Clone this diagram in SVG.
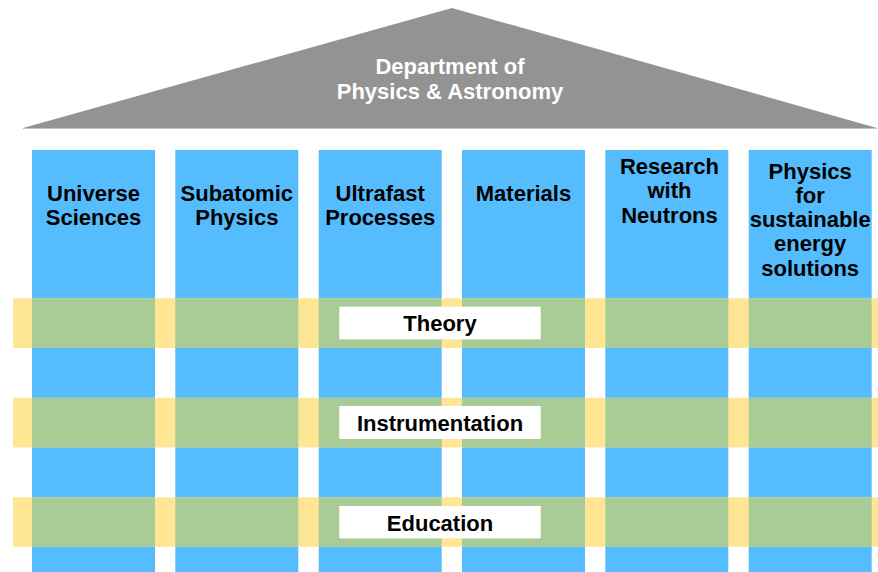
<svg xmlns="http://www.w3.org/2000/svg" width="878" height="572" viewBox="0 0 878 572">
<style>
.pillar{fill:#55BDFE}
.band{fill:#FFE695}
.ov{fill:#A9CC97}
.box{fill:#FFFFFF}
.t{font-family:"Liberation Sans",Arial,sans-serif;font-weight:bold;font-size:22px;fill:#000;text-anchor:middle}
.rt{font-family:"Liberation Sans",Arial,sans-serif;font-weight:bold;font-size:22px;fill:#FFFFFF;text-anchor:middle}
</style>
<rect width="878" height="572" fill="#FFFFFF"/>
<g id="roof">
<polygon points="452,8 877,128 23,128" fill="#939393"/>
<line x1="23" y1="128.5" x2="877" y2="128.5" stroke="#C4C4C4" stroke-width="1"/>
<text class="rt" x="450" y="74">Department of</text>
<text class="rt" x="450" y="99">Physics &amp; Astronomy</text>
</g>
<g id="pillars">
<g id="p1"><rect class="pillar" x="32" y="150" width="123" height="422"/><text class="t" x="93.5" y="200.5">Universe</text><text class="t" x="93.5" y="225">Sciences</text></g>
<g id="p2"><rect class="pillar" x="175.3" y="150" width="123" height="422"/><text class="t" x="236.8" y="200.5">Subatomic</text><text class="t" x="236.8" y="225">Physics</text></g>
<g id="p3"><rect class="pillar" x="318.7" y="150" width="123" height="422"/><text class="t" x="380.2" y="200.5">Ultrafast</text><text class="t" x="380.2" y="225">Processes</text></g>
<g id="p4"><rect class="pillar" x="462" y="150" width="123" height="422"/><text class="t" x="523.5" y="200.5">Materials</text></g>
<g id="p5"><rect class="pillar" x="605.3" y="150" width="123" height="422"/><text class="t" x="669.5" y="173.5">Research</text><text class="t" x="669.5" y="198">with</text><text class="t" x="669.5" y="222.5">Neutrons</text></g>
<g id="p6"><rect class="pillar" x="748.7" y="150" width="123" height="422"/><text class="t" x="810.2" y="178.5">Physics</text><text class="t" x="810.2" y="203">for</text><text class="t" x="810.2" y="227">sustainable</text><text class="t" x="810.2" y="251">energy</text><text class="t" x="810.2" y="275.5">solutions</text></g>
</g>
<g id="band-theory">
<rect class="band" x="13" y="298.3" width="865" height="49.7"/>
<rect class="ov" x="32" y="298.3" width="123" height="49.7"/>
<rect class="ov" x="175.3" y="298.3" width="123" height="49.7"/>
<rect class="ov" x="318.7" y="298.3" width="123" height="49.7"/>
<rect class="ov" x="462" y="298.3" width="123" height="49.7"/>
<rect class="ov" x="605.3" y="298.3" width="123" height="49.7"/>
<rect class="ov" x="748.7" y="298.3" width="123" height="49.7"/>
<rect class="box" x="339.3" y="306.7" width="201.4" height="32.6"/>
<text class="t" x="440" y="331">Theory</text>
</g>
<g id="band-instrumentation">
<rect class="band" x="13" y="397.8" width="865" height="49.6"/>
<rect class="ov" x="32" y="397.8" width="123" height="49.6"/>
<rect class="ov" x="175.3" y="397.8" width="123" height="49.6"/>
<rect class="ov" x="318.7" y="397.8" width="123" height="49.6"/>
<rect class="ov" x="462" y="397.8" width="123" height="49.6"/>
<rect class="ov" x="605.3" y="397.8" width="123" height="49.6"/>
<rect class="ov" x="748.7" y="397.8" width="123" height="49.6"/>
<rect class="box" x="339.3" y="406" width="201.4" height="33"/>
<text class="t" x="440" y="431">Instrumentation</text>
</g>
<g id="band-education">
<rect class="band" x="13" y="497.3" width="865" height="49.5"/>
<rect class="ov" x="32" y="497.3" width="123" height="49.5"/>
<rect class="ov" x="175.3" y="497.3" width="123" height="49.5"/>
<rect class="ov" x="318.7" y="497.3" width="123" height="49.5"/>
<rect class="ov" x="462" y="497.3" width="123" height="49.5"/>
<rect class="ov" x="605.3" y="497.3" width="123" height="49.5"/>
<rect class="ov" x="748.7" y="497.3" width="123" height="49.5"/>
<rect class="box" x="339.3" y="506" width="201.4" height="32.4"/>
<text class="t" x="440" y="530.5">Education</text>
</g>
<g id="connectors"/>
</svg>
